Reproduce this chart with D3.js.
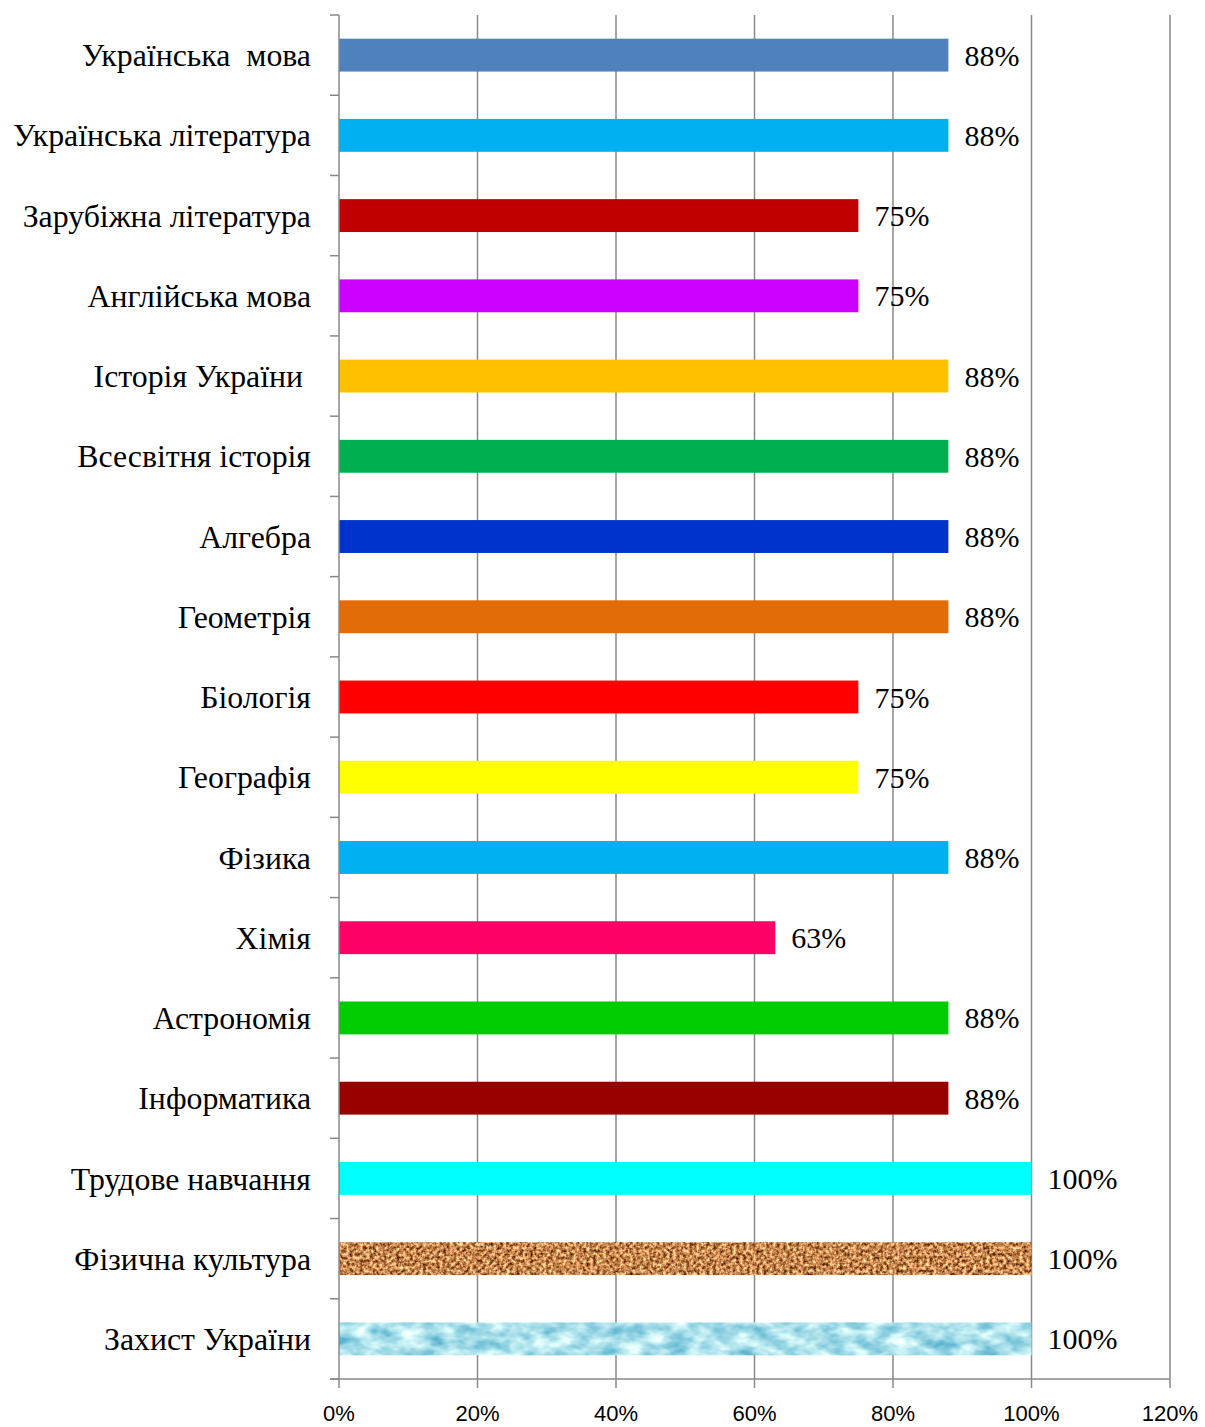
<!DOCTYPE html>
<html>
<head>
<meta charset="utf-8">
<script src="https://cdn.jsdelivr.net/npm/d3@7"></script>
<style>
  body { margin: 0; background: #fff; }
  text { white-space: pre; }
</style>
</head>
<body>
<div id="chart"></div>
<script>
// subjects, top to bottom
var subjects = ["Українська  мова", "Українська література", "Зарубіжна література",
  "Англійська мова", "Історія України ", "Всесвітня історія", "Алгебра", "Геометрія",
  "Біологія", "Географія", "Фізика", "Хімія", "Астрономія", "Інформатика",
  "Трудове навчання", "Фізична культура", "Захист України"];
var values = [88, 88, 75, 75, 88, 88, 88, 88, 75, 75, 88, 63, 88, 88, 100, 100, 100];
var barColors = ["#4F81BD", "#00B0F0", "#C00000", "#CC00FF", "#FFC000", "#00B050",
  "#0033CC", "#E36C09", "#FF0000", "#FFFF00", "#00B0F0", "#FF0066", "#00CC00",
  "#990000", "#00FFFF", "cork", "water"];
var xTicks = [0, 20, 40, 60, 80, 100, 120];

var width = 1205, height = 1427;
var plotL = 339, plotR = 1170, plotT = 15, plotB = 1379;

var svg = d3.select("#chart").append("svg")
  .attr("width", width)
  .attr("height", height);

// textures for the last two bars (picture fills in the original)
var defs = svg.append("defs");
var cork = defs.append("filter").attr("id", "corkTex")
  .attr("color-interpolation-filters", "sRGB")
  .attr("x", 0).attr("y", 0).attr("width", 1).attr("height", 1);
cork.append("feTurbulence").attr("type", "fractalNoise")
  .attr("baseFrequency", "0.3").attr("numOctaves", 3).attr("seed", 4).attr("result", "n");
cork.append("feColorMatrix").attr("in", "n").attr("type", "matrix")
  .attr("values", "1.5 0 0 0 0.03  1.35 0 0 0 -0.15  1.1 0 0 0 -0.24  0 0 0 0 1")
  .attr("result", "c");
cork.append("feComposite").attr("in", "c").attr("in2", "SourceGraphic").attr("operator", "in");

var water = defs.append("filter").attr("id", "waterTex")
  .attr("color-interpolation-filters", "sRGB")
  .attr("x", 0).attr("y", 0).attr("width", 1).attr("height", 1);
water.append("feTurbulence").attr("type", "fractalNoise")
  .attr("baseFrequency", "0.045 0.08").attr("numOctaves", 3).attr("seed", 7).attr("result", "n");
water.append("feColorMatrix").attr("in", "n").attr("type", "matrix")
  .attr("values", "0.9 0 0 0 0.22  0.5 0 0 0 0.63  0.3 0 0 0 0.77  0 0 0 0 1")
  .attr("result", "c");
water.append("feComposite").attr("in", "c").attr("in2", "SourceGraphic").attr("operator", "in");

var x = d3.scaleLinear().domain([0, 120]).range([plotL, plotR]);
var y = d3.scaleBand().domain(subjects).range([plotT, plotB]).paddingInner(0.59).paddingOuter(0.295);

// gridlines
svg.append("g").selectAll("line").data(xTicks.slice(1)).enter().append("line")
  .attr("x1", function(d) { return x(d); })
  .attr("x2", function(d) { return x(d); })
  .attr("y1", plotT).attr("y2", plotB)
  .attr("stroke", "#888").attr("stroke-width", 1.5);

// bars
svg.append("g").selectAll("rect").data(subjects).enter().append("rect")
  .attr("x", x(0))
  .attr("y", function(d) { return y(d); })
  .attr("width", function(d, i) { return x(values[i]) - x(0); })
  .attr("height", y.bandwidth())
  .attr("fill", function(d, i) { return barColors[i].charAt(0) == "#" ? barColors[i] : "#fff"; })
  .attr("filter", function(d, i) {
    if (barColors[i] == "cork") return "url(#corkTex)";
    if (barColors[i] == "water") return "url(#waterTex)";
    return null;
  });

// value labels
svg.append("g").selectAll("text").data(subjects).enter().append("text")
  .attr("x", function(d, i) { return x(values[i]) + 16; })
  .attr("y", function(d) { return y(d) + y.bandwidth() / 2; })
  .attr("dy", "0.35em")
  .style("font-family", "'Liberation Serif', 'Times New Roman', serif")
  .style("font-size", "30px")
  .text(function(d, i) { return values[i] + "%"; });

// y axis with ticks between categories
var step = (plotB - plotT) / subjects.length;
var yAx = svg.append("g");
yAx.append("line").attr("x1", plotL).attr("x2", plotL).attr("y1", plotT).attr("y2", plotB)
  .attr("stroke", "#888").attr("stroke-width", 1.5);
yAx.selectAll(".tk").data(d3.range(subjects.length + 1)).enter().append("line")
  .attr("x1", plotL - 9).attr("x2", plotL)
  .attr("y1", function(i) { return plotT + i * step; })
  .attr("y2", function(i) { return plotT + i * step; })
  .attr("stroke", "#888").attr("stroke-width", 1.5);
yAx.selectAll("text").data(subjects).enter().append("text")
  .attr("x", 311)
  .attr("y", function(d) { return y(d) + y.bandwidth() / 2; })
  .attr("dy", "0.35em")
  .attr("text-anchor", "end")
  .style("font-family", "'Liberation Serif', 'Times New Roman', serif")
  .style("font-size", "31.8px")
  .text(function(d) { return d; });

// x axis
var xAx = svg.append("g");
xAx.append("line").attr("x1", plotL - 9).attr("x2", plotR).attr("y1", plotB).attr("y2", plotB)
  .attr("stroke", "#888").attr("stroke-width", 1.5);
xAx.selectAll(".tk").data(xTicks).enter().append("line")
  .attr("x1", function(d) { return x(d); })
  .attr("x2", function(d) { return x(d); })
  .attr("y1", plotB).attr("y2", plotB + 9)
  .attr("stroke", "#888").attr("stroke-width", 1.5);
xAx.selectAll("text").data(xTicks).enter().append("text")
  .attr("x", function(d) { return x(d); })
  .attr("y", 1421)
  .attr("text-anchor", "middle")
  .style("font-family", "'Liberation Sans', Arial, sans-serif")
  .style("font-size", "22px")
  .text(function(d) { return d + "%"; });
</script>
</body>
</html>
